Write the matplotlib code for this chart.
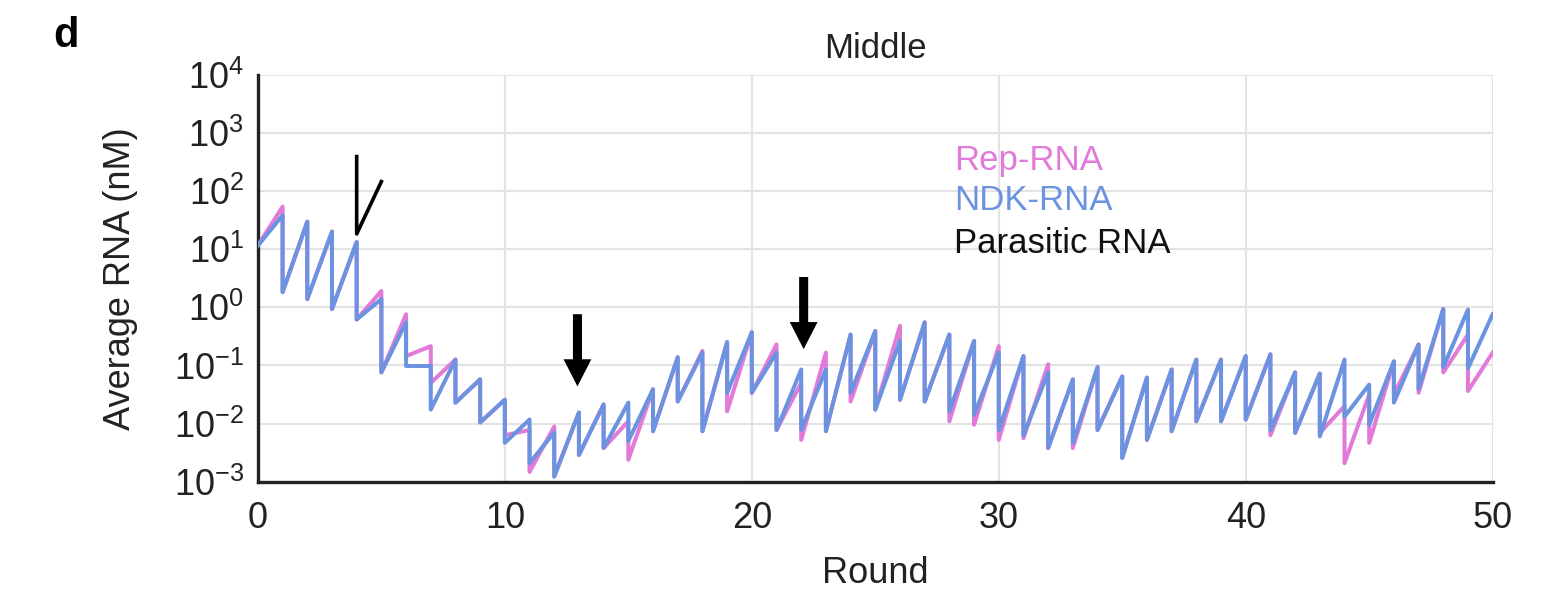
import numpy as np
import matplotlib
matplotlib.use("Agg")
import matplotlib.pyplot as plt

plt.rcParams['font.family'] = ['Liberation Sans', 'DejaVu Sans']
plt.rcParams['mathtext.fontset'] = 'custom'
plt.rcParams['mathtext.rm'] = 'Liberation Sans'

# log10 values: start-of-round (after dilution) for rounds 0..49
rep_low = [1.06, 0.26, 0.14, -0.03, -0.21, -1.12, -0.84, -1.30, -1.64, -1.98,
           -2.20, -2.83, -2.91, -2.54, -2.42, -2.62, -2.13, -1.62, -2.13, -1.79,
           -1.47, -2.11, -2.28, -2.13, -1.62, -1.76, -1.59, -1.62, -1.96, -2.02,
           -2.28, -2.25, -2.42, -2.42, -2.11, -2.59, -2.28, -2.13, -1.96, -1.96,
           -1.93, -2.20, -2.16, -2.16, -2.68, -2.33, -1.50, -1.47, -1.12, -1.44]
ndk_low = [1.06, 0.26, 0.14, -0.03, -0.21, -1.12, -1.01, -1.76, -1.64, -1.98,
           -2.33, -2.68, -2.91, -2.54, -2.42, -2.30, -2.13, -1.62, -2.13, -1.47,
           -1.47, -2.11, -2.11, -2.13, -1.47, -1.76, -1.59, -1.62, -1.79, -1.85,
           -2.11, -2.20, -2.42, -2.33, -2.11, -2.59, -2.28, -2.13, -1.96, -1.96,
           -1.93, -2.11, -2.16, -2.22, -1.88, -2.02, -1.64, -1.40, -1.03, -1.05]
# log10 values: end-of-round peaks for rounds 1..50
rep_peak = [1.73, 1.47, 1.30, 1.12, 0.28, -0.12, -0.67, -0.90, -1.24, -1.59,
            -2.11, -2.05, -1.81, -1.67, -1.96, -1.41, -0.86, -0.75, -0.60, -0.43,
            -0.64, -1.30, -0.78, -0.47, -0.41, -0.32, -0.26, -0.47, -0.58, -0.67,
            -0.84, -0.98, -1.24, -1.03, -1.19, -1.21, -1.07, -0.90, -0.90, -0.84,
            -0.81, -1.12, -1.14, -1.70, -1.50, -0.93, -0.64, -0.03, -0.47, -0.78]
ndk_peak = [1.58, 1.47, 1.30, 1.12, 0.14, -0.26, -1.01, -0.90, -1.24, -1.59,
            -1.93, -2.15, -1.81, -1.67, -1.64, -1.41, -0.86, -0.78, -0.60, -0.43,
            -0.78, -1.07, -1.07, -0.47, -0.41, -0.58, -0.26, -0.47, -0.58, -0.78,
            -0.84, -1.12, -1.24, -1.03, -1.19, -1.21, -1.07, -0.90, -0.90, -0.84,
            -0.81, -1.12, -1.14, -0.90, -1.33, -0.93, -0.64, -0.03, -0.04, -0.12]
# parasitic RNA (only visible briefly)
par_x = [4, 4, 5]
par_log = [2.59, 1.26, 2.16]

# arrows (round, top log10, tip log10)
arrow_x = [12.94, 22.1]
arrow_top = [-0.12, 0.52]
arrow_tip = [-1.36, -0.72]

def sawtooth(low, peak):
    xs, ys = [], []
    for r in range(len(low)):
        xs += [r, r + 1]
        ys += [10 ** low[r], 10 ** peak[r]]
    return xs, ys

PINK = '#E17AD8'
BLUE = '#6B93E0'

fig = plt.figure(figsize=(15.63, 6.06), dpi=100)
ax = fig.add_axes([0.165, 0.205, 0.790, 0.672])

rx, ry = sawtooth(rep_low, rep_peak)
nx, ny = sawtooth(ndk_low, ndk_peak)
ax.plot(rx, ry, color=PINK, lw=2.9, zorder=3)
ax.plot(nx, ny, color=BLUE, lw=2.9, zorder=4)
ax.plot(par_x, [10 ** v for v in par_log], color='black', lw=2.6, zorder=5)

for xa, yt, yb in zip(arrow_x, arrow_top, arrow_tip):
    ax.annotate('', xy=(xa, 10 ** yb), xytext=(xa, 10 ** yt),
                arrowprops=dict(arrowstyle='simple,head_length=1.95,head_width=2.0,tail_width=0.65',
                                color='black', shrinkA=0, shrinkB=0, lw=0, mutation_scale=10),
                zorder=6)

ax.set_yscale('log')
ax.set_xlim(0, 50)
ax.set_ylim(1e-3, 1e4)
ax.set_xticks([0, 10, 20, 30, 40, 50])
yt = [10.0 ** k for k in range(-3, 5)]
ax.set_yticks(yt)
ax.set_yticklabels([r'$10^{%d}$' % k for k in range(-3, 5)])
ax.yaxis.set_minor_locator(matplotlib.ticker.NullLocator())
ax.tick_params(axis='both', length=0, labelsize=26, pad=10, labelcolor='#222222')
ax.tick_params(axis='x', pad=14)
ax.grid(True, color='#e3e3e3', lw=1.5, zorder=0)
for s in ['top', 'right']:
    ax.spines[s].set_visible(False)
for s in ['left', 'bottom']:
    ax.spines[s].set_linewidth(2.4)
    ax.spines[s].set_color('#222222')

ax.set_xlabel('Round', fontsize=26, labelpad=14, color='#222222')
ax.set_ylabel('Average RNA (nM)', fontsize=26, labelpad=26, color='#222222')
ax.set_title('Middle', fontsize=25, pad=12, color='#222222')

ax.text(0.564, 0.79, 'Rep-RNA', color=PINK, fontsize=25, transform=ax.transAxes, va='center')
ax.text(0.564, 0.69, 'NDK-RNA', color=BLUE, fontsize=25, transform=ax.transAxes, va='center')
ax.text(0.564, 0.585, 'Parasitic RNA', color='#111111', fontsize=25, transform=ax.transAxes, va='center')

fig.text(0.034, 0.94, 'd', fontsize=30, fontweight='bold', va='center')

fig.savefig('out.png', dpi=100)
